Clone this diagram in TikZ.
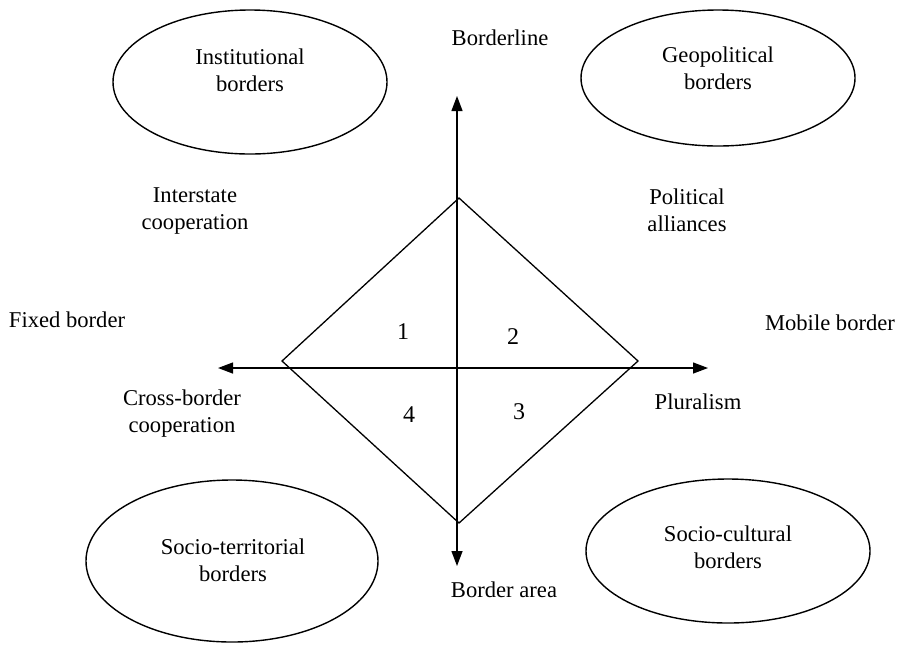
\documentclass[tikz,border=0pt]{standalone}
\usepackage{fontspec}
\setmainfont{Liberation Serif}
\usetikzlibrary{shapes.geometric,arrows.meta,positioning}

\begin{document}
\begin{tikzpicture}[x=0.5pt,y=-0.5pt,% one unit is one pixel of the original
        every node/.style={font=\fontsize{11.3}{13.5}\selectfont,align=center,inner sep=0pt},
        region/.style={draw,ellipse,line width=0.7pt},
        axis/.style={line width=0.65pt,-{Triangle[length=7.5pt,width=5.5pt]}}]
\useasboundingbox (0,0) rectangle (903,644);

% the four kinds of border
\node[region,minimum width=137pt,minimum height=72pt] (inst) at (250,82) {};
\node[region,minimum width=137pt,minimum height=68pt] (geo) at (718,78) {};
\node[region,minimum width=146pt,minimum height=81pt] (terr) at (232,561) {};
\node[region,minimum width=142pt,minimum height=72pt] (cult) at (728,551) {};
\node (insttext) at (250,70) {Institutional\\borders};
\node (geotext) at (718,68) {Geopolitical\\borders};
\node (terrtext) at (233,560) {Socio-territorial\\borders};
\node (culttext) at (728,547) {Socio-cultural\\borders};

% axes
\coordinate (o) at (457,368);
\coordinate (n) at (457,96);
\coordinate (s) at (457,566);
\coordinate (w) at (218,368);
\coordinate (e) at (708,368);
\foreach \d in {n,s,w,e}{ % one arrow out of the centre for each direction
\draw[axis] (o) -- (\d);
 }

% the diamond
\coordinate (top) at (459,198);
\coordinate (right) at (638,361);
\coordinate (bottom) at (459,523);
\coordinate (left) at (282,361);
\draw[line width=0.65pt] (top) -- (right) -- (bottom) -- (left) -- cycle;

\foreach[count=\i] \p in {(403,332),(513,337),(519,412),(409,415)}{ %\i is the quadrant
\node[font=\fontsize{12}{14}\selectfont] (q\i) at \p {\i};
 }

% labels round the axes
\node (borderline) at (500,38) {Borderline};
\node (borderarea) at (504,590) {Border area};
\node (fixed) at (67,320) {Fixed border};
\node (mobile) at (830,323) {Mobile border};
\node (interstate) at (195,211) {Interstate\\cooperation};
\node (alliances) at (687,210) {Political\\alliances};
\node (crossborder) at (182,414) {Cross-border\\cooperation};
\node (pluralism) at (698,402) {Pluralism};

\end{tikzpicture}
\end{document}
